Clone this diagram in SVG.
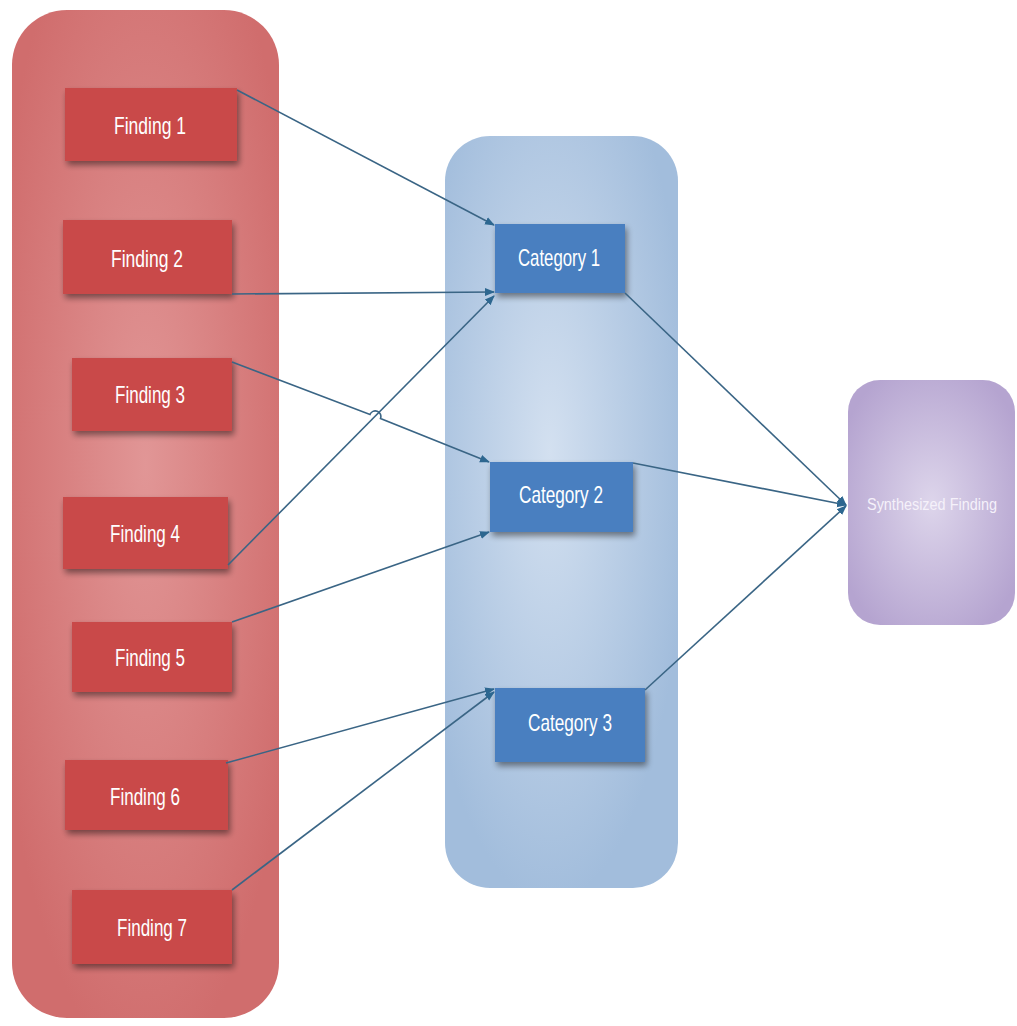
<svg xmlns="http://www.w3.org/2000/svg" width="1017" height="1026" viewBox="0 0 1017 1026">
<defs>
<radialGradient id="gRed" cx="0.5" cy="0.45" r="0.6">
<stop offset="0" stop-color="#e19696"/>
<stop offset="1" stop-color="#d06d6d"/>
</radialGradient>
<radialGradient id="gBlue" cx="0.45" cy="0.42" r="0.6">
<stop offset="0" stop-color="#d3e0f0"/>
<stop offset="1" stop-color="#a2bddc"/>
</radialGradient>
<radialGradient id="gPurple" cx="0.5" cy="0.5" r="0.6">
<stop offset="0" stop-color="#ddd5eb"/>
<stop offset="1" stop-color="#b5a4d0"/>
</radialGradient>
<filter id="shadow" x="-20%" y="-30%" width="140%" height="170%">
<feGaussianBlur in="SourceAlpha" stdDeviation="3"/>
<feOffset dx="2" dy="4" result="b"/>
<feComponentTransfer><feFuncA type="linear" slope="0.45"/></feComponentTransfer>
<feMerge><feMergeNode/><feMergeNode in="SourceGraphic"/></feMerge>
</filter>
<marker id="arrow" markerWidth="10" markerHeight="10" refX="9" refY="5" orient="auto" markerUnits="userSpaceOnUse">
<path d="M0,1 L10,5 L0,9 Z" fill="#2d6790"/>
</marker>
<style>
.finding{fill:#c94a4a;filter:url(#shadow)}
.cat{fill:#4a7fc0;filter:url(#shadow)}
.lbl{font-family:"Liberation Sans Narrow","Liberation Sans",Arial,sans-serif;fill:#ffffff;font-size:24px;text-anchor:middle}
.conn{stroke:#3a6585;stroke-width:1.6;fill:none;marker-end:url(#arrow)}
</style>
</defs>
<rect width="1017" height="1026" fill="#ffffff"/>
<g id="group-findings">
<rect x="12" y="10" width="267" height="1008" rx="55" ry="55" fill="url(#gRed)"/>
</g>
<g id="group-categories">
<rect x="445" y="136" width="233" height="752" rx="45" ry="45" fill="url(#gBlue)"/>
</g>
<g id="finding1"><rect class="finding" x="65" y="88" width="172" height="73"/><text class="lbl" x="150" y="134" textLength="72" lengthAdjust="spacingAndGlyphs">Finding 1</text></g>
<g id="finding2"><rect class="finding" x="63" y="220" width="169" height="74"/><text class="lbl" x="147" y="267" textLength="72" lengthAdjust="spacingAndGlyphs">Finding 2</text></g>
<g id="finding3"><rect class="finding" x="72" y="358" width="160" height="73"/><text class="lbl" x="150" y="403" textLength="70" lengthAdjust="spacingAndGlyphs">Finding 3</text></g>
<g id="finding4"><rect class="finding" x="63" y="497" width="165" height="72"/><text class="lbl" x="145" y="542" textLength="70" lengthAdjust="spacingAndGlyphs">Finding 4</text></g>
<g id="finding5"><rect class="finding" x="72" y="622" width="160" height="70"/><text class="lbl" x="150" y="666" textLength="70" lengthAdjust="spacingAndGlyphs">Finding 5</text></g>
<g id="finding6"><rect class="finding" x="65" y="760" width="163" height="70"/><text class="lbl" x="145" y="805" textLength="70" lengthAdjust="spacingAndGlyphs">Finding 6</text></g>
<g id="finding7"><rect class="finding" x="72" y="890" width="160" height="74"/><text class="lbl" x="152" y="936" textLength="70" lengthAdjust="spacingAndGlyphs">Finding 7</text></g>
<g id="category1"><rect class="cat" x="495" y="224" width="130" height="69"/><text class="lbl" x="559" y="266" font-size="22" textLength="82" lengthAdjust="spacingAndGlyphs">Category 1</text></g>
<g id="category2"><rect class="cat" x="490" y="462" width="143" height="70"/><text class="lbl" x="561" y="503" font-size="22" textLength="84" lengthAdjust="spacingAndGlyphs">Category 2</text></g>
<g id="category3"><rect class="cat" x="495" y="688" width="150" height="74"/><text class="lbl" x="570" y="731" font-size="22" textLength="84" lengthAdjust="spacingAndGlyphs">Category 3</text></g>
<g id="synthesized">
<rect x="848" y="380" width="167" height="245" rx="32" ry="32" fill="url(#gPurple)"/>
<text x="932" y="510" font-family="'Liberation Sans Narrow','Liberation Sans',Arial,sans-serif" font-size="16" fill="#f5f1fa" text-anchor="middle" textLength="130" lengthAdjust="spacingAndGlyphs">Synthesized Finding</text>
</g>
<g id="connectors">
<path class="conn" d="M237,90 L494,225"/>
<path class="conn" d="M232,294 L494,292"/>
<path class="conn" d="M232,362 L370,414.5 A5.5,5.5 0 0 1 380.5,418.5 L489,462"/>
<path class="conn" d="M228,565 L494,296"/>
<path class="conn" d="M232,622 L489,532"/>
<path class="conn" d="M226,763 L494,689"/>
<path class="conn" d="M232,890 L494,692"/>
<path class="conn" d="M625,293 L846,505"/>
<path class="conn" d="M633,463 L846,505"/>
<path class="conn" d="M645,690 L846,506"/>
</g>
</svg>
